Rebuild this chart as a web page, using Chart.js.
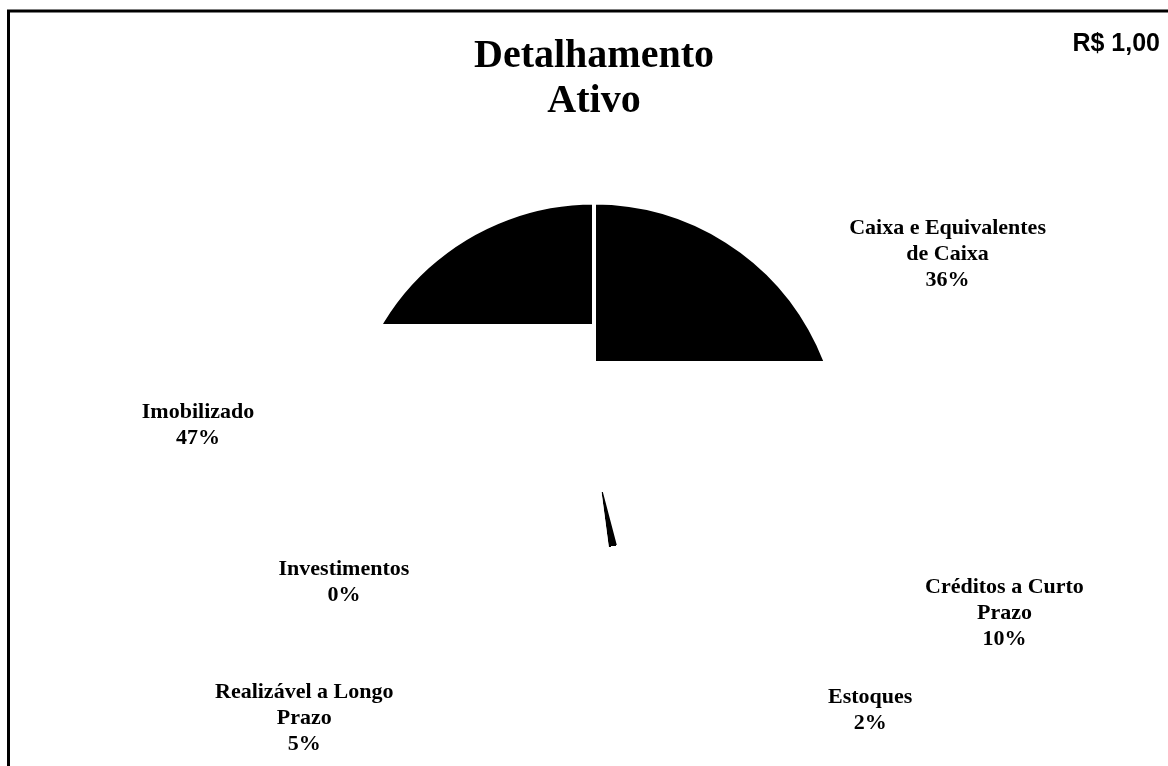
<!DOCTYPE html>
<html>
<head>
<meta charset="utf-8">
<script src="https://cdn.jsdelivr.net/npm/chart.js@4.4.1/dist/chart.umd.min.js"></script>
<style>
html, body { margin: 0; padding: 0; background: #fff; }
#wrap { position: relative; width: 1168px; height: 766px; }
</style>
</head>
<body>
<div id="wrap"><canvas id="pie"></canvas></div>
<script>
// dados do gráfico
const categorias = [
    ['Caixa e Equivalentes', 'de Caixa'],
    ['Créditos a Curto', 'Prazo'],
    ['Estoques'],
    ['Realizável a Longo', 'Prazo'],
    ['Investimentos'],
    ['Imobilizado']
];
const valores = [36, 10, 2, 5, 0.2, 47];
const tituloLinhas = ['Detalhamento', 'Ativo'];
const unidade = 'R$ 1,00';

// onde fica cada rótulo: [ângulo em graus a partir do topo, distância em raios]
const posRotulo = [[61, 1.63], [111.6, 1.78], [133.3, 1.53], [227.3, 1.59], [242.2, 1.14], [273.7, 1.60]];

// preenchimento das fatias (a imagem original só tem partes pretas)
const preench = [
    { tipo: 'topo', ate: 0.322 },
    { tipo: 'nada' },
    { tipo: 'anel', de: 0.17, ate: 0.39 },
    { tipo: 'nada' },
    { tipo: 'nada' },
    { tipo: 'topo', ate: 0.248 }
];

const serif = '"Liberation Serif", "Times New Roman", serif';

function corFatia(c) {
    const a = c.chart.chartArea;
    const f = preench[c.dataIndex];
    if (!a || f.tipo === 'nada') return '#ffffff';
    const ctx = c.chart.ctx;
    let g;
    if (f.tipo === 'topo') {
        g = ctx.createLinearGradient(0, a.top, 0, a.bottom);
        g.addColorStop(0, '#000');
        g.addColorStop(f.ate, '#000');
        g.addColorStop(f.ate, '#fff');
        g.addColorStop(1, '#fff');
    } else {
        const cx = (a.left + a.right) / 2, cy = (a.top + a.bottom) / 2;
        const r = Math.min(a.width, a.height) / 2;
        g = ctx.createRadialGradient(cx, cy, 0, cx, cy, r);
        g.addColorStop(0, '#fff');
        g.addColorStop(f.de, '#fff');
        g.addColorStop(f.de, '#000');
        g.addColorStop(f.ate, '#000');
        g.addColorStop(f.ate, '#fff');
        g.addColorStop(1, '#fff');
    }
    return g;
}

// moldura + rótulos + unidade
const rotulosPlugin = {
    id: 'rotulos',
    beforeDraw(chart) {
        const ctx = chart.ctx;
        ctx.save();
        ctx.fillStyle = '#fff';
        ctx.fillRect(0, 0, chart.width, chart.height);
        ctx.strokeStyle = '#000';
        ctx.lineWidth = 3;
        ctx.strokeRect(8.5, 11, 1400, 1000);
        ctx.restore();
    },
    afterDatasetsDraw(chart) {
        const ctx = chart.ctx;
        const meta = chart.getDatasetMeta(0);
        const total = valores.reduce((s, v) => s + v, 0);
        ctx.save();
        ctx.fillStyle = '#000';
        ctx.textAlign = 'center';
        ctx.textBaseline = 'middle';
        ctx.font = 'bold 22px ' + serif;
        meta.data.forEach((arc, i) => {
            const p = arc.getProps(['x', 'y', 'outerRadius'], true);
            const ang = posRotulo[i][0] * Math.PI / 180;
            const d = posRotulo[i][1] * p.outerRadius;
            const x = p.x + Math.sin(ang) * d;
            const y = p.y - Math.cos(ang) * d;
            const linhas = categorias[i].concat([Math.round(valores[i] / total * 100) + '%']);
            const y0 = y - (linhas.length - 1) * 26 / 2;
            linhas.forEach((t, k) => ctx.fillText(t, x, y0 + k * 26));
        });
        ctx.textAlign = 'right';
        ctx.textBaseline = 'alphabetic';
        ctx.font = 'bold 25px "Liberation Sans", Arial, sans-serif';
        ctx.fillText(unidade, 1160, 51);
        ctx.restore();
    }
};

const ctx = document.getElementById('pie').getContext('2d');
const grafico = new Chart(ctx, {
    type: 'pie',
    data: {
        labels: categorias,
        datasets: [{
            data: valores,
            backgroundColor: corFatia,
            borderColor: '#ffffff',
            borderWidth: 4
        }]
    },
    options: {
        responsive: true,
        maintainAspectRatio: false,
        animation: false,
        layout: { padding: { left: 344, right: 324, top: 0, bottom: 65 } },
        plugins: {
            legend: { display: false },
            tooltip: { enabled: false },
            title: {
                display: true,
                text: tituloLinhas,
                color: '#000',
                font: { family: serif, size: 40, weight: 'bold', lineHeight: 1.125 },
                padding: { top: 34, bottom: 76 }
            }
        }
    },
    plugins: [rotulosPlugin]
});
</script>
</body>
</html>
